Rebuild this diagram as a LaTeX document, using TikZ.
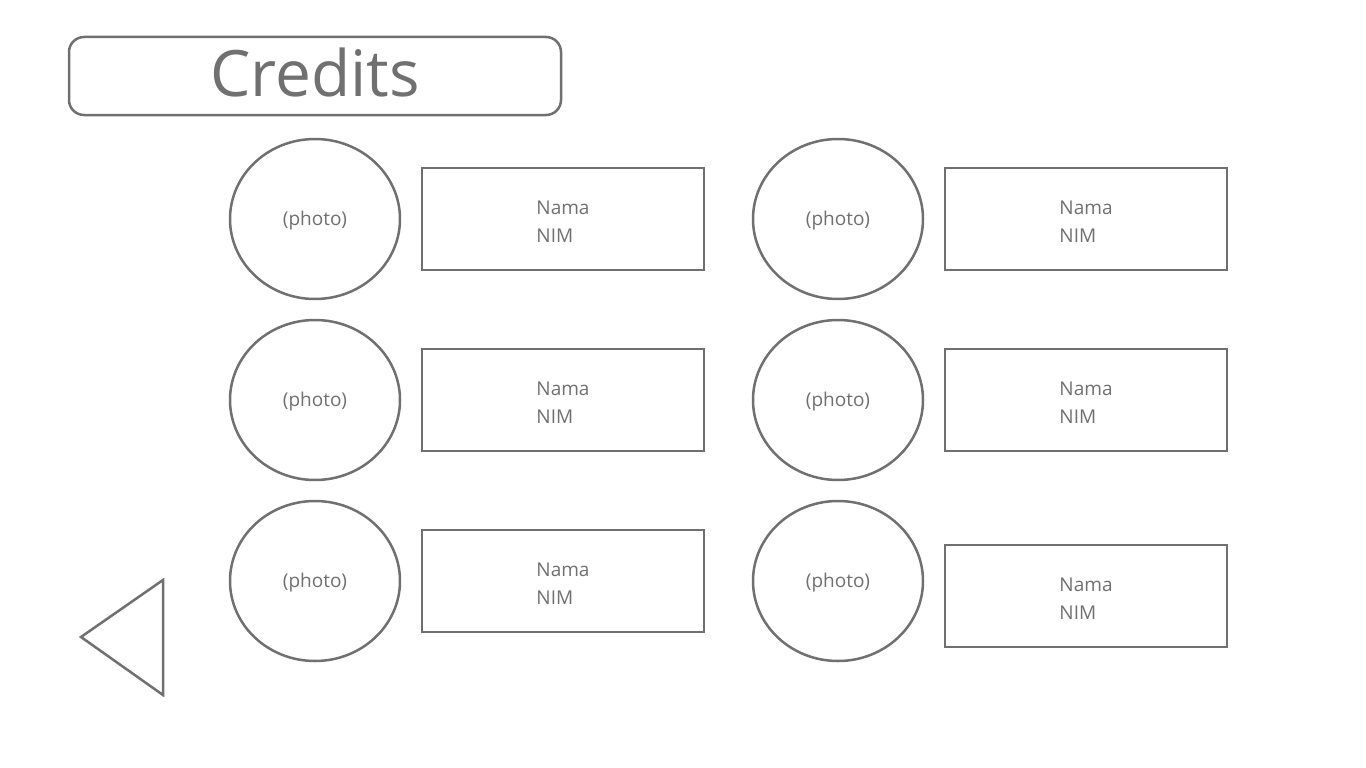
\documentclass[tikz,border=0pt]{standalone}
\usepackage{fontspec}
\setmainfont{Open Sans}
\usetikzlibrary{shapes.geometric}
\definecolor{ln}{HTML}{707070}
\begin{document}
\begin{tikzpicture}[x=1pt,y=-1pt,
  every node/.style={text=ln},
  outline/.style={draw=ln,line width=2.5pt},
  photo/.style={outline,ellipse,minimum width=170pt,minimum height=160pt,inner sep=0pt},
  phototext/.style={font=\fontsize{19}{22}\selectfont},
  card/.style={outline,rectangle,minimum width=282pt,minimum height=102pt,inner sep=0pt},
  cardtext/.style={align=left,font=\fontsize{19}{28}\selectfont}]
\useasboundingbox[fill=white] (0,0) rectangle (1366,768);
\node[outline,rounded corners=15pt,minimum width=492pt,minimum height=78pt,inner sep=0pt] (title) at (315,76) {};
\node[font=\fontsize{64}{70}\selectfont] (titletext) at (315,72) {Credits};
\foreach \n/\x/\y in {1/315/219,2/315/400,3/315/581,4/838/219,5/838/400,6/838/581}{
  \node[photo] (p\n) at (\x,\y) {};
  \node[phototext] (pt\n) at ([yshift=-2pt]p\n.center) {(photo)};
}
\foreach \n/\x/\y in {1/563/219,2/563/400,3/563/581,4/1086/219,5/1086/400,6/1086/596}{
  \node[card] (c\n) at (\x,\y) {};
  \node[cardtext] (t\n) at ([yshift=-3pt]c\n.center) {Nama\\NIM};
}
\draw[outline,line join=miter] (81,637) -- (163,580) -- (163,695) -- cycle;
\end{tikzpicture}
\end{document}
